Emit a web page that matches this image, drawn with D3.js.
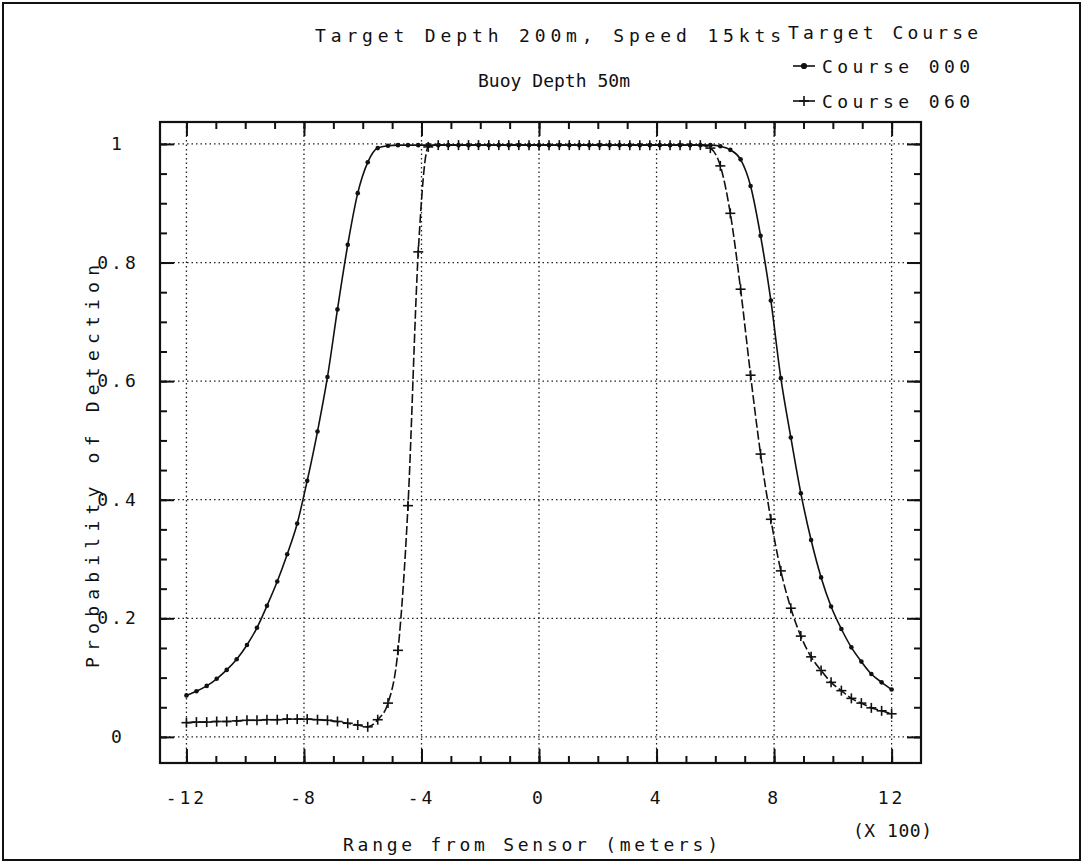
<!DOCTYPE html>
<html>
<head>
<meta charset="utf-8">
<script src="https://cdn.jsdelivr.net/npm/d3@7"></script>
<style>
  body { margin: 0; background: #fff; }
  svg text { font-family: "DejaVu Sans Mono", monospace; fill: #111; }
</style>
</head>
<body>
<svg id="chart" width="1084" height="865"></svg>
<script>
// Range from sensor, in hundreds of meters (one sample per marker)
const rangeX = [
    -12.00, -11.66, -11.31, -10.97, -10.63, -10.29, -9.94, -9.60, -9.26, -8.91,
    -8.57, -8.23, -7.89, -7.54, -7.20, -6.86, -6.51, -6.17, -5.83, -5.49,
    -5.14, -4.80, -4.46, -4.11, -3.77, -3.43, -3.09, -2.74, -2.40, -2.06,
    -1.71, -1.37, -1.03, -0.69, -0.34, 0.00, 0.34, 0.69, 1.03, 1.37,
    1.71, 2.06, 2.40, 2.74, 3.09, 3.43, 3.77, 4.11, 4.46, 4.80,
    5.14, 5.49, 5.83, 6.17, 6.51, 6.86, 7.20, 7.54, 7.89, 8.23,
    8.57, 8.91, 9.26, 9.60, 9.94, 10.29, 10.63, 10.97, 11.31, 11.66,
    12.00
];

// Probability of detection, target course 000
const course000 = [
    0.070, 0.077, 0.086, 0.098, 0.113, 0.131, 0.155, 0.184, 0.221, 0.262,
    0.308, 0.360, 0.432, 0.515, 0.607, 0.721, 0.830, 0.917, 0.969, 0.993,
    0.997, 0.998, 0.998, 0.998, 0.998, 0.998, 0.998, 0.998, 0.998, 0.998,
    0.998, 0.998, 0.998, 0.998, 0.998, 0.998, 0.998, 0.998, 0.998, 0.998,
    0.998, 0.998, 0.998, 0.998, 0.998, 0.998, 0.998, 0.998, 0.998, 0.998,
    0.998, 0.998, 0.998, 0.996, 0.990, 0.974, 0.929, 0.845, 0.736, 0.605,
    0.505, 0.411, 0.332, 0.269, 0.220, 0.182, 0.151, 0.127, 0.106, 0.092,
    0.080
];

// Probability of detection, target course 060
const course060 = [
    0.024, 0.025, 0.025, 0.026, 0.026, 0.027, 0.028, 0.028, 0.029, 0.029,
    0.030, 0.030, 0.030, 0.029, 0.028, 0.026, 0.023, 0.020, 0.017, 0.029,
    0.057, 0.146, 0.390, 0.818, 0.995, 0.998, 0.998, 0.998, 0.998, 0.998,
    0.998, 0.998, 0.998, 0.998, 0.998, 0.998, 0.998, 0.998, 0.998, 0.998,
    0.998, 0.998, 0.998, 0.998, 0.998, 0.998, 0.998, 0.998, 0.998, 0.998,
    0.998, 0.998, 0.993, 0.963, 0.883, 0.755, 0.610, 0.477, 0.367, 0.280,
    0.217, 0.170, 0.135, 0.112, 0.092, 0.078, 0.065, 0.057, 0.049, 0.044,
    0.039
];

const xTickValues = [-12, -8, -4, 0, 4, 8, 12];
const xTickLabels = ['-12', '-8', '-4', '0', '4', '8', '12'];
const yTickValues = [0, 0.2, 0.4, 0.6, 0.8, 1];
const yTickLabels = ['0', '0.2', '0.4', '0.6', '0.8', '1'];
const legendLabels = ['Course 000', 'Course 060'];

const svg = d3.select('#chart');

// plot frame in pixels
const plotLeft = 160, plotRight = 921, plotTop = 122, plotBottom = 763;

const x = d3.scaleLinear().domain([-12.9, 13]).range([plotLeft, plotRight]);
const y = d3.scaleLinear().domain([-0.044, 1.037]).range([plotBottom, plotTop]);

// outer border of the page
svg.append('rect')
    .attr('x', 3).attr('y', 3)
    .attr('width', 1077).attr('height', 857)
    .attr('fill', 'none')
    .attr('stroke', '#111')
    .attr('stroke-width', 2);

// dotted grid
const grid = svg.append('g')
    .attr('stroke', '#222')
    .attr('stroke-width', 1.3)
    .attr('stroke-dasharray', '1.5,3');

grid.selectAll('line.gx')
    .data(xTickValues)
    .enter().append('line')
    .attr('class', 'gx')
    .attr('x1', d => x(d)).attr('x2', d => x(d))
    .attr('y1', plotTop).attr('y2', plotBottom);

grid.selectAll('line.gy')
    .data(yTickValues)
    .enter().append('line')
    .attr('class', 'gy')
    .attr('x1', plotLeft).attr('x2', plotRight)
    .attr('y1', d => y(d)).attr('y2', d => y(d));

// inward ticks on all four sides
const xMinor = d3.range(-12, 13, 1);
const yMinor = d3.range(0, 1.001, 0.05);

function tickAxes(axisFn, scale, pos, values, size) {
    const g = svg.append('g')
        .attr('transform', pos)
        .call(axisFn(scale).tickValues(values).tickSize(size).tickFormat(''));
    g.select('.domain').remove();
    g.selectAll('line').attr('stroke', '#111').attr('stroke-width', 2);
}

tickAxes(d3.axisBottom, x, `translate(0,${plotBottom})`, xMinor, -7);
tickAxes(d3.axisBottom, x, `translate(0,${plotBottom})`, xTickValues, -14);
tickAxes(d3.axisTop, x, `translate(0,${plotTop})`, xMinor, -7);
tickAxes(d3.axisTop, x, `translate(0,${plotTop})`, xTickValues, -14);
tickAxes(d3.axisLeft, y, `translate(${plotLeft},0)`, yMinor, -7);
tickAxes(d3.axisLeft, y, `translate(${plotLeft},0)`, yTickValues, -14);
tickAxes(d3.axisRight, y, `translate(${plotRight},0)`, yMinor, -7);
tickAxes(d3.axisRight, y, `translate(${plotRight},0)`, yTickValues, -14);

// frame
svg.append('rect')
    .attr('x', plotLeft).attr('y', plotTop)
    .attr('width', plotRight - plotLeft).attr('height', plotBottom - plotTop)
    .attr('fill', 'none')
    .attr('stroke', '#111')
    .attr('stroke-width', 2.2);

// tick labels
svg.append('g').selectAll('text')
    .data(xTickValues)
    .enter().append('text')
    .attr('x', d => x(d))
    .attr('y', 804)
    .attr('text-anchor', 'middle')
    .style('font-size', '18px')
    .style('letter-spacing', '3px')
    .text((d, i) => xTickLabels[i]);

svg.append('g').selectAll('text')
    .data(yTickValues)
    .enter().append('text')
    .attr('x', 118)
    .attr('y', d => y(d) + 6)
    .attr('text-anchor', 'middle')
    .style('font-size', '18px')
    .style('letter-spacing', '3px')
    .text((d, i) => yTickLabels[i]);

// text helper, width forced to match the plotter lettering
function label(txt, x0, y0, len, extra) {
    const t = svg.append('text')
        .attr('x', x0).attr('y', y0)
        .attr('textLength', len)
        .attr('lengthAdjust', 'spacing')
        .style('font-size', '18px')
        .text(txt);
    if (extra) extra(t);
    return t;
}

// axis titles
label('Range from Sensor (meters)', 343, 851, 375);
label('(X 100)', 853, 837, 79);
label('Probability of Detection', 0, 0, 403, t =>
    t.attr('transform', 'translate(99,668) rotate(-90)'));

// titles and legend text
label('Target Depth 200m, Speed 15kts', 315, 42, 466);
label('Buoy Depth 50m', 478, 87, 152);
label('Target Course', 788, 39, 190);
label(legendLabels[0], 822, 73, 148);
label(legendLabels[1], 822, 108, 148);

// data lines
const pts000 = rangeX.map((d, i) => [d, course000[i]]);
const pts060 = rangeX.map((d, i) => [d, course060[i]]);

const line = d3.line()
    .x(d => x(d[0]))
    .y(d => y(d[1]))
    .curve(d3.curveMonotoneX);

svg.append('path')
    .datum(pts000)
    .attr('d', line)
    .attr('fill', 'none')
    .attr('stroke', '#111')
    .attr('stroke-width', 1.6);

svg.append('path')
    .datum(pts060)
    .attr('d', line)
    .attr('fill', 'none')
    .attr('stroke', '#111')
    .attr('stroke-width', 1.6)
    .attr('stroke-dasharray', '9,3');

// markers
svg.append('g').selectAll('circle')
    .data(pts000)
    .enter().append('circle')
    .attr('cx', d => x(d[0]))
    .attr('cy', d => y(d[1]))
    .attr('r', 2.3)
    .attr('fill', '#111');

function plus(sel) {
    sel.append('line').attr('x1', -5).attr('x2', 5).attr('y1', 0).attr('y2', 0);
    sel.append('line').attr('x1', 0).attr('x2', 0).attr('y1', -5).attr('y2', 5);
}

svg.append('g')
    .attr('stroke', '#111')
    .attr('stroke-width', 1.6)
    .selectAll('g')
    .data(pts060)
    .enter().append('g')
    .attr('transform', d => `translate(${x(d[0])},${y(d[1])})`)
    .call(plus);

// legend symbols
const lg = svg.append('g').attr('stroke', '#111').attr('stroke-width', 1.6);
lg.append('line').attr('x1', 793).attr('x2', 815).attr('y1', 66).attr('y2', 66);
lg.append('circle').attr('cx', 804).attr('cy', 66).attr('r', 2.3).attr('fill', '#111');
lg.append('line').attr('x1', 793).attr('x2', 815).attr('y1', 101).attr('y2', 101);
lg.append('g').attr('transform', 'translate(804,101)').call(plus);
</script>
</body>
</html>
